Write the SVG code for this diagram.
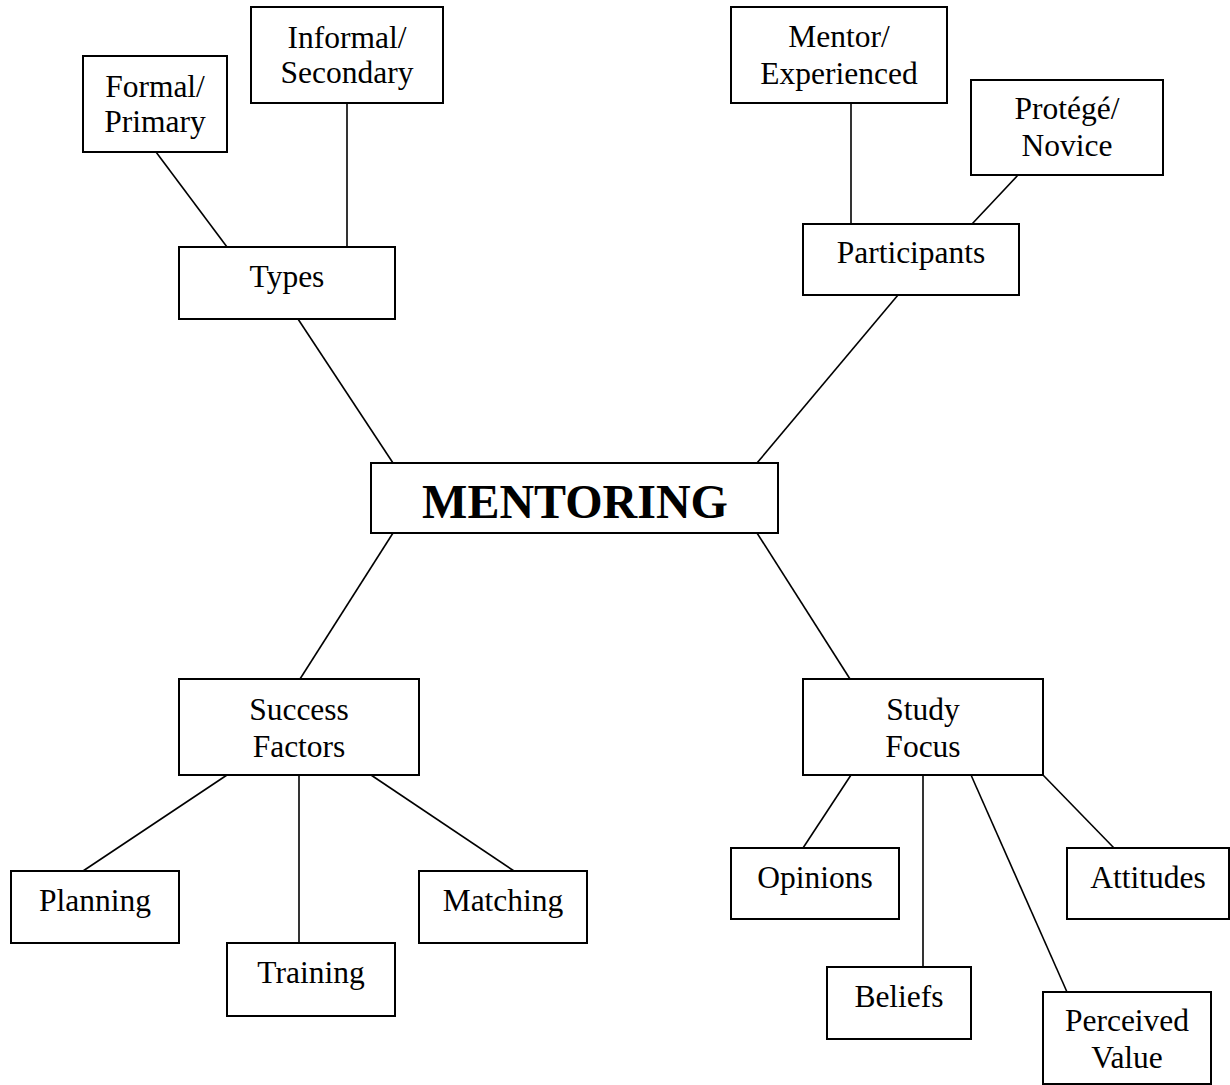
<svg xmlns="http://www.w3.org/2000/svg" width="1230" height="1085" viewBox="0 0 1230 1085">
<style>
.box{fill:#fff;stroke:#000;stroke-width:2}
.ln{stroke:#000;stroke-width:1.6;fill:none}
text{font-family:"Liberation Serif","Times New Roman",serif;font-size:31.5px;fill:#000;text-anchor:middle}
.big{font-size:48px;font-weight:bold}
</style>
<rect width="1230" height="1085" fill="#fff"/>
<g id="connectors">
<line class="ln" x1="156" y1="152" x2="227" y2="247"/>
<line class="ln" x1="347" y1="103" x2="347" y2="247"/>
<line class="ln" x1="298" y1="319" x2="393" y2="463"/>
<line class="ln" x1="851" y1="103" x2="851" y2="224"/>
<line class="ln" x1="1018" y1="175" x2="972" y2="224"/>
<line class="ln" x1="898" y1="295" x2="757" y2="463"/>
<line class="ln" x1="393" y1="533" x2="300" y2="679"/>
<line class="ln" x1="757" y1="533" x2="850" y2="679"/>
<line class="ln" x1="227" y1="775" x2="83" y2="871"/>
<line class="ln" x1="299" y1="775" x2="299" y2="943"/>
<line class="ln" x1="371" y1="775" x2="514" y2="871"/>
<line class="ln" x1="851" y1="775" x2="803" y2="848"/>
<line class="ln" x1="923" y1="775" x2="923" y2="967"/>
<line class="ln" x1="971" y1="775" x2="1067" y2="992"/>
<line class="ln" x1="1043" y1="775" x2="1114" y2="848"/>
</g>
<g id="formal"><rect class="box" x="83" y="56" width="144" height="96"/><text x="155" y="97">Formal/</text><text x="155" y="132">Primary</text></g>
<g id="informal"><rect class="box" x="251" y="7" width="192" height="96"/><text x="347" y="48">Informal/</text><text x="347" y="83">Secondary</text></g>
<g id="types"><rect class="box" x="179" y="247" width="216" height="72"/><text x="287" y="287">Types</text></g>
<g id="mentor"><rect class="box" x="731" y="7" width="216" height="96"/><text x="839" y="47">Mentor/</text><text x="839" y="84">Experienced</text></g>
<g id="protege"><rect class="box" x="971" y="80" width="192" height="95"/><text x="1067" y="119">Protégé/</text><text x="1067" y="156">Novice</text></g>
<g id="participants"><rect class="box" x="803" y="224" width="216" height="71"/><text x="911" y="263">Participants</text></g>
<g id="mentoring"><rect class="box" x="371" y="463" width="407" height="70"/><text class="big" x="575" y="518">MENTORING</text></g>
<g id="success"><rect class="box" x="179" y="679" width="240" height="96"/><text x="299" y="720">Success</text><text x="299" y="757">Factors</text></g>
<g id="planning"><rect class="box" x="11" y="871" width="168" height="72"/><text x="95" y="911">Planning</text></g>
<g id="training"><rect class="box" x="227" y="943" width="168" height="73"/><text x="311" y="983">Training</text></g>
<g id="matching"><rect class="box" x="419" y="871" width="168" height="72"/><text x="503" y="911">Matching</text></g>
<g id="study"><rect class="box" x="803" y="679" width="240" height="96"/><text x="923" y="720">Study</text><text x="923" y="757">Focus</text></g>
<g id="opinions"><rect class="box" x="731" y="848" width="168" height="71"/><text x="815" y="888">Opinions</text></g>
<g id="attitudes"><rect class="box" x="1067" y="848" width="162" height="71"/><text x="1148" y="888">Attitudes</text></g>
<g id="beliefs"><rect class="box" x="827" y="967" width="144" height="72"/><text x="899" y="1007">Beliefs</text></g>
<g id="perceived"><rect class="box" x="1043" y="992" width="168" height="92"/><text x="1127" y="1031">Perceived</text><text x="1127" y="1068">Value</text></g>
</svg>
